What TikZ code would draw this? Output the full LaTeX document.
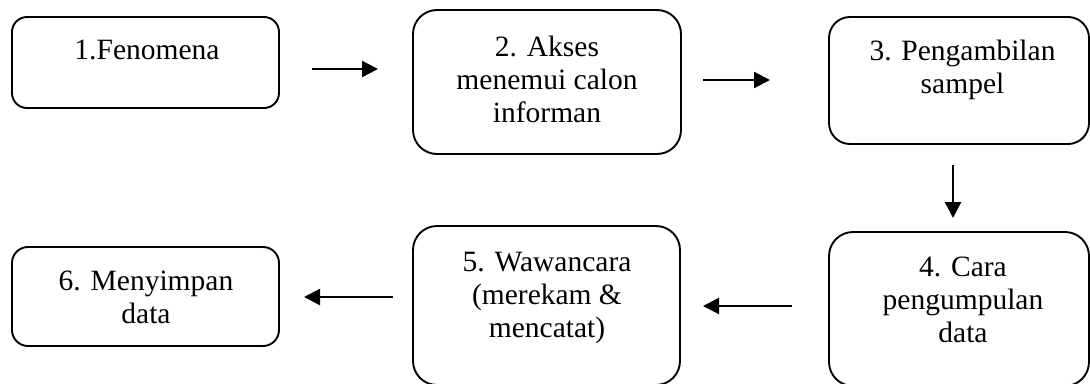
\documentclass[tikz,border=0pt]{standalone}
\usepackage{fontspec}
\setmainfont{Liberation Serif}
\usetikzlibrary{arrows.meta}
\begin{document}
\begin{tikzpicture}[x=1pt,y=-1pt,
  box/.style={draw, line width=1.9pt, rounded corners=#1, inner sep=0pt},
  box/.default=15pt,
  lbl/.style={anchor=base, align=center, inner sep=0pt,
    font=\fontsize{29.5pt}{33pt}\selectfont},
  flow/.style={line width=2.3pt, -{Triangle[length=16pt,width=16pt]}}]
\useasboundingbox (0,0) rectangle (1090,383);
% boxes
\node[box=15pt, minimum width=267pt, minimum height=91pt] (b1) at (145.5,62.5) {};
\node[box=24pt, minimum width=268pt, minimum height=144pt] (b2) at (547,82) {};
\node[box=21pt, minimum width=260pt, minimum height=127pt] (b3) at (959,80.5) {};
\node[box=24pt, minimum width=260pt, minimum height=154pt] (b4) at (959,309) {};
\node[box=24pt, minimum width=267pt, minimum height=159pt] (b5) at (546.5,305.5) {};
\node[box=16pt, minimum width=267pt, minimum height=99pt] (b6) at (145.5,296.5) {};
% texts (anchored at the baseline of the last line)
\node[lbl] (t1) at (147,59) {1.Fenomena};
\node[lbl] (t2) at (547,122) {2. Akses\\menemui calon\\informan};
\node[lbl] (t3) at (962.5,93) {3. Pengambilan\\sampel};
\node[lbl] (t4) at (963,342) {4. Cara\\pengumpulan\\data};
\node[lbl] (t5) at (547,337) {5. Wawancara\\(merekam \&\\mencatat)};
\node[lbl] (t6) at (146,323) {6. Menyimpan\\data};
% arrow end points
\coordinate (a1s) at (312,69);  \coordinate (a1e) at (378,69);
\coordinate (a2s) at (703,80);  \coordinate (a2e) at (770,80);
\coordinate (a3s) at (953,165); \coordinate (a3e) at (953,218);
\coordinate (a4s) at (792,306); \coordinate (a4e) at (703,306);
\coordinate (a5s) at (393,297); \coordinate (a5e) at (304,297);
\draw[flow] (a1s) -- (a1e);
\draw[flow] (a2s) -- (a2e);
\draw[flow] (a3s) -- (a3e);
\draw[flow] (a4s) -- (a4e);
\draw[flow] (a5s) -- (a5e);
\end{tikzpicture}
\end{document}
